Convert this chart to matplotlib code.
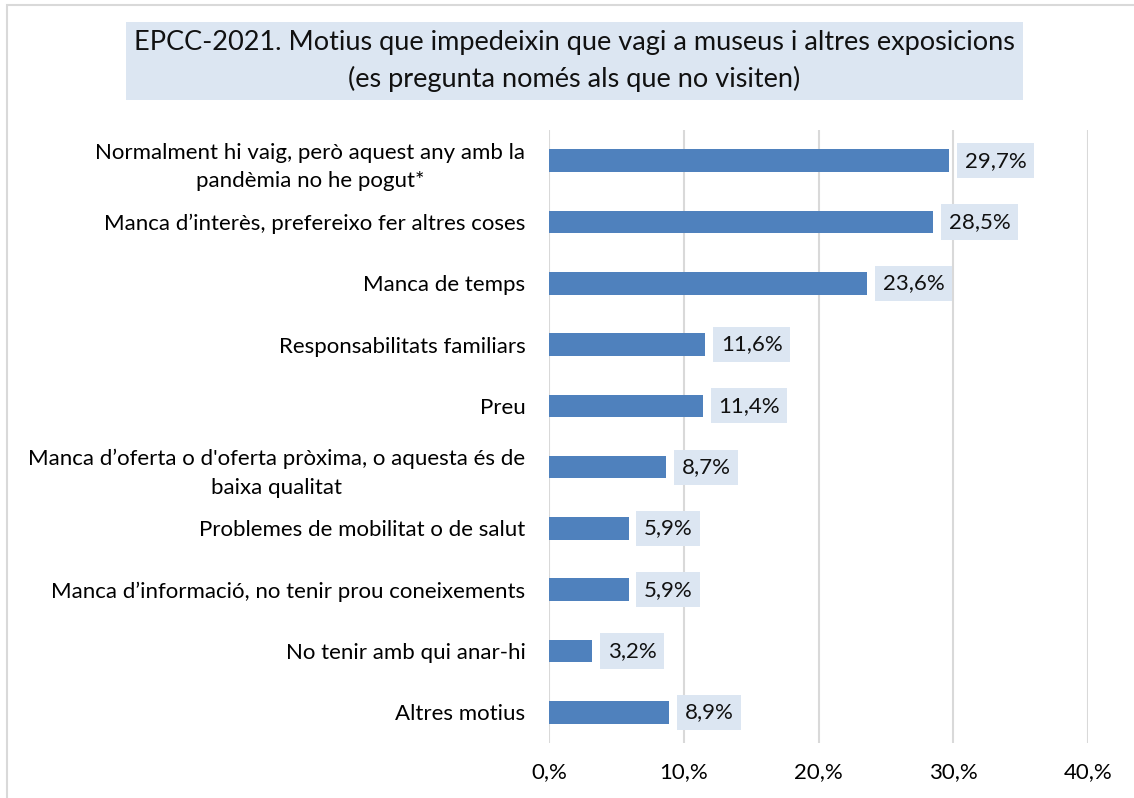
import matplotlib
matplotlib.use("Agg")
import matplotlib.pyplot as plt
from matplotlib.patches import Rectangle

plt.rcParams['font.family'] = ['Lato', 'DejaVu Sans']

categories = [
    "Normalment hi vaig, però aquest any amb la\npandèmia no he pogut*",
    "Manca d\u2019interès, prefereixo fer altres coses",
    "Manca de temps",
    "Responsabilitats familiars",
    "Preu",
    "Manca d\u2019oferta o d'oferta pròxima, o aquesta és de\nbaixa qualitat",
    "Problemes de mobilitat o de salut",
    "Manca d\u2019informació, no tenir prou coneixements",
    "No tenir amb qui anar-hi",
    "Altres motius",
]
values = [29.7, 28.5, 23.6, 11.6, 11.4, 8.7, 5.9, 5.9, 3.2, 8.9]
xticks = [0, 10, 20, 30, 40]
xtick_labels = ["0,%", "10,%", "20,%", "30,%", "40,%"]
title = "EPCC-2021. Motius que impedeixin que vagi a museus i altres exposicions\n(es pregunta només als que no visiten)"

bar_color = "#4f81bd"
box_color = "#dce6f2"

fig = plt.figure(figsize=(11.34, 7.98), dpi=100)
ax = fig.add_axes([549/1134, 1-743/798, (1088-549)/1134, (743-130)/798])

# outer chart border
fig.patches.append(Rectangle((7/1134, -0.1), 1.2, 1-5/798+0.1, transform=fig.transFigure,
                             fill=False, edgecolor="#d9d9d9", linewidth=1.5))

ypos = list(range(len(categories)))
ax.barh(ypos, values, height=0.37, color=bar_color, zorder=3)
ax.set_ylim(len(categories)-0.5, -0.5)
ax.set_xlim(0, 40)

for y, v in zip(ypos, values):
    ax.text(v + 1.15, y, f"{v:.1f}%".replace(".", ","), va="center", ha="left",
            fontsize=16, color="#111111", zorder=4,
            bbox=dict(boxstyle="square,pad=0.34", facecolor=box_color, edgecolor="none"))

ax.set_yticks(ypos)
ax.set_yticklabels(categories, fontsize=16)
ax.set_xticks(xticks)
ax.set_xticklabels(xtick_labels, fontsize=16)
ax.tick_params(axis="y", length=0, pad=17)
ax.tick_params(axis="x", length=0, pad=14)
for lbl in ax.get_yticklabels():
    lbl.set_multialignment("center")
    lbl.set_linespacing(1.55)

ax.grid(axis="x", color="#d9d9d9", linewidth=1.5, zorder=0)
for s in ax.spines.values():
    s.set_visible(False)

fig.text(574.5/1134, 1-61/798, title, ha="center", va="center", fontsize=19.5,
         linespacing=1.5, color="#111111",
         bbox=dict(boxstyle="square,pad=0.3", facecolor=box_color, edgecolor="none"))

fig.savefig("out.png", dpi=100)
